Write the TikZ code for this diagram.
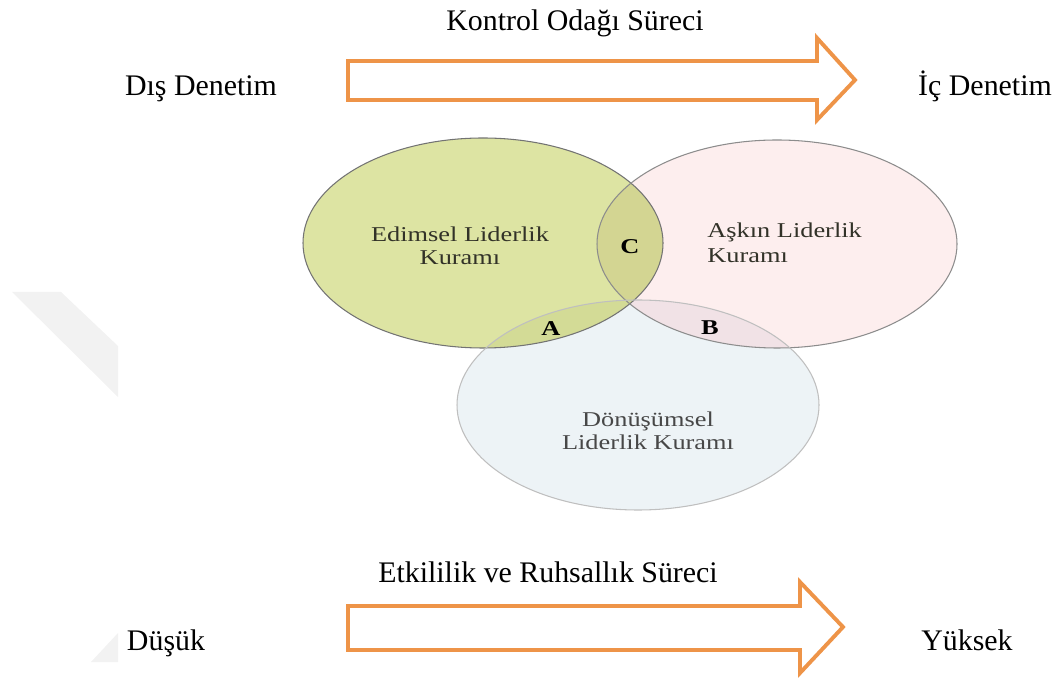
\documentclass[tikz,border=0pt]{standalone}
\usepackage{fontspec}
\setmainfont{Liberation Serif}
\newfontfamily\vennfont[FakeStretch=1.25]{Liberation Serif}
\usepackage{xcolor}
\usepackage{tikz}

\definecolor{arroworange}{RGB}{238,148,72}
\definecolor{edimselfill}{RGB}{221,228,163}
\definecolor{askinfill}{RGB}{253,238,238}
\definecolor{donusumfill}{RGB}{237,243,246}
\definecolor{cfill}{RGB}{211,213,146}
\definecolor{afill}{RGB}{211,219,150}
\definecolor{bfill}{RGB}{241,226,230}
\definecolor{venntext}{RGB}{50,50,40}
\definecolor{markgray}{RGB}{242,242,242}

% ellipse paths for the Venn part
\def\edimsel{(9.66,-4.86) ellipse [x radius=3.6cm, y radius=2.1cm]}
\def\askin{(15.54,-4.88) ellipse [x radius=3.6cm, y radius=2.08cm]}
\def\donusum{(12.76,-8.10) ellipse [x radius=3.62cm, y radius=2.1cm]}

\begin{document}
\begin{tikzpicture}[
        font=\fontsize{17}{20}\selectfont,
        label/.style={
            inner sep=0pt,
            anchor=base
        },
        flow/.style={
            draw=arroworange,
            line width=2.2pt,
            line join=miter
        },
        venn/.style={
            inner sep=0pt,
            text=venntext,
            font=\vennfont\fontsize{12}{13}\selectfont
        },
        region/.style={
            inner sep=0pt,
            font=\vennfont\bfseries\fontsize{12}{13}\selectfont
        }
    ]

    \useasboundingbox (0,0) rectangle (21.14,-13.58);

    % faint watermark pieces
    \fill[markgray] (0.24,-5.84) -- (1.22,-5.84) -- (2.36,-6.92) -- (2.36,-7.94) -- cycle;
    \fill[markgray] (2.36,-12.66) -- (2.36,-13.24) -- (1.82,-13.24) -- cycle;

    % ---------- Top: locus of control ----------
    \node[label] (kontrol) at (11.5,-0.62) {Kontrol Odağı Süreci};
    \node[label] (dis)     at (4.02,-1.92) {Dış Denetim};
    \node[label] (ic)      at (19.70,-1.92) {İç Denetim};

    \draw[flow] (6.96,-1.22) -- (16.34,-1.22) -- (16.34,-0.76) -- (17.10,-1.60)
        -- (16.34,-2.40) -- (16.34,-2.00) -- (6.96,-2.00) -- cycle;

    % ---------- Venn diagram ----------
    \fill[edimselfill] \edimsel;
    \fill[askinfill] \askin;
    \fill[donusumfill] \donusum;

    \begin{scope}
        \clip \edimsel;
        \fill[cfill] \askin;
    \end{scope}
    \begin{scope}
        \clip \askin;
        \fill[bfill] \donusum;
    \end{scope}
    \begin{scope}
        \clip \edimsel;
        \fill[afill] \donusum;
    \end{scope}

    \draw[black!55, line width=0.6pt] \edimsel;
    \draw[black!45, line width=0.6pt] \askin;
    \draw[black!25, line width=0.6pt] \donusum;

    \node[venn, align=center] (edimseltxt) at (9.2,-4.92)
        {Edimsel Liderlik\\Kuramı};
    \node[venn, align=left, anchor=west, font=\vennfont\fontsize{12}{14}\selectfont] (askintxt) at (14.14,-4.86)
        {Aşkın Liderlik\\Kuramı};
    \node[venn, align=center, text=black!72] (donusumtxt) at (12.96,-8.62)
        {Dönüşümsel\\Liderlik Kuramı};

    \node[region] (regc) at (12.60,-4.94) {C};
    \node[region] (rega) at (11.02,-6.58) {A};
    \node[region] (regb) at (14.20,-6.56) {B};

    % ---------- Bottom: effectiveness and spirituality ----------
    \node[label] (etkililik) at (10.96,-11.64) {Etkililik ve Ruhsallık Süreci};
    \node[label] (dusuk)     at (3.32,-13.00) {Düşük};
    \node[label] (yuksek)    at (19.34,-13.00) {Yüksek};

    \draw[flow] (6.96,-12.12) -- (16.00,-12.12) -- (16.00,-11.64) -- (16.86,-12.54)
        -- (16.00,-13.46) -- (16.00,-13.00) -- (6.96,-13.00) -- cycle;

\end{tikzpicture}
\end{document}
